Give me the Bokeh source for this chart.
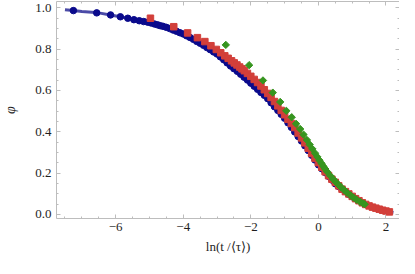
import math
from bokeh.plotting import figure
from bokeh.models import Range1d, LinearAxis, SingleIntervalTicker
from bokeh.embed import file_html
from bokeh.resources import INLINE

# ---- data ----
fit_x = [-7.5, -7.25, -7.0, -6.5, -6.16, -5.86, -5.64, -5.44, -5.0, -4.5, -4.0, -3.79, -3.5,
         -3.0, -2.66, -2.24, -1.95, -1.53, -1.0, -0.5, 0.0, 0.5, 1.0, 1.5, 2.0, 2.22]
fit_y = [0.990, 0.986, 0.982, 0.975, 0.965, 0.956, 0.949, 0.941, 0.928, 0.905, 0.873, 0.855, 0.828,
         0.776, 0.725, 0.670, 0.628, 0.566, 0.465, 0.355, 0.240, 0.148, 0.085, 0.042, 0.016, 0.009]

blue_x = [-7.25, -6.56, -6.15, -5.86, -5.64, -5.46, -5.3, -5.17, -5.05, -4.95, -4.85, -4.76, -4.68,
          -4.6, -4.5, -4.4, -4.3, -4.2, -4.1, -4.0, -3.9, -3.8, -3.7, -3.6, -3.5, -3.4, -3.3, -3.2,
          -3.1, -3.0, -2.9, -2.8, -2.7, -2.6, -2.5, -2.4, -2.3, -2.2, -2.1, -2.0, -1.9, -1.8, -1.7,
          -1.6, -1.5, -1.4, -1.3, -1.2, -1.1, -1.0, -0.9, -0.8, -0.7, -0.6, -0.5, -0.4, -0.3, -0.2,
          -0.1, 0.0, 0.1, 0.2, 0.3, 0.4, 0.5, 0.6, 0.7, 0.8, 0.9, 1.0, 1.1]
blue_y = [0.986, 0.975, 0.965, 0.956, 0.949, 0.942, 0.937, 0.933, 0.930, 0.926, 0.921, 0.917, 0.913,
          0.910, 0.905, 0.899, 0.892, 0.886, 0.879, 0.873, 0.864, 0.856, 0.847, 0.837, 0.828, 0.818,
          0.807, 0.797, 0.786, 0.776, 0.762, 0.748, 0.733, 0.718, 0.705, 0.692, 0.678, 0.664, 0.650,
          0.635, 0.620, 0.605, 0.590, 0.576, 0.560, 0.540, 0.521, 0.503, 0.484, 0.465, 0.443, 0.421,
          0.399, 0.377, 0.355, 0.332, 0.309, 0.286, 0.263, 0.240, 0.221, 0.203, 0.184, 0.166, 0.148,
          0.135, 0.122, 0.110, 0.097, 0.085, 0.076]

red_x = [-4.97, -4.28, -3.87, -3.58, -3.36, -3.18, -3.02, -2.89, -2.77, -2.67, -2.57, -2.49, -2.41,
         -2.33, -2.26, -2.19, -2.1, -2.0, -1.9, -1.8, -1.7, -1.6, -1.5, -1.4, -1.3, -1.2, -1.1, -1.0,
         -0.9, -0.8, -0.7, -0.6, -0.5, -0.4, -0.3, -0.2, -0.1, 0.0, 0.1, 0.2, 0.3, 0.4, 0.5, 0.6,
         0.7, 0.8, 0.9, 1.0, 1.1, 1.2, 1.3, 1.4, 1.5, 1.6, 1.7, 1.8, 1.9, 2.0, 2.1]
red_y = [0.949, 0.908, 0.878, 0.855, 0.836, 0.816, 0.798, 0.782, 0.767, 0.755, 0.743, 0.733, 0.723,
         0.713, 0.704, 0.695, 0.682, 0.668, 0.653, 0.638, 0.621, 0.603, 0.585, 0.566, 0.546, 0.525,
         0.503, 0.482, 0.460, 0.440, 0.420, 0.394, 0.370, 0.346, 0.320, 0.295, 0.272, 0.250, 0.228,
         0.206, 0.187, 0.170, 0.155, 0.138, 0.122, 0.110, 0.099, 0.087, 0.076, 0.066, 0.056, 0.048,
         0.041, 0.035, 0.030, 0.025, 0.020, 0.016, 0.012]

green_x = [-2.74, -2.05, -1.64, -1.35, -1.13, -0.95, -0.79, -0.66, -0.54, -0.44, -0.34, -0.26, -0.18,
           -0.10, -0.03, 0.03, 0.09, 0.15, 0.20, 0.26, 0.35, 0.44, 0.52, 0.59, 0.66, 0.76, 0.84,
           0.95, 1.04, 1.13, 1.23, 1.32, 1.37]
green_y = [0.820, 0.722, 0.648, 0.589, 0.544, 0.501, 0.470, 0.438, 0.413, 0.386, 0.360, 0.338, 0.317,
           0.296, 0.278, 0.262, 0.247, 0.232, 0.220, 0.206, 0.187, 0.170, 0.156, 0.144, 0.133, 0.118,
           0.106, 0.092, 0.081, 0.071, 0.061, 0.053, 0.049]

x_labels = {-6: "\u22126", -4: "\u22124", -2: "\u22122", 0: "0", 2: "2"}
y_labels = {0: "0.0", 0.2: "0.2", 0.4: "0.4", 0.6: "0.6", 0.8: "0.8", 1: "1.0"}

FONT = "Liberation Serif"
FRAME = "#bdbdbd"
TXT = "#1e1e1e"

p = figure(width=399, height=258, output_backend="svg", toolbar_location=None,
           x_range=Range1d(-7.75, 2.4), y_range=Range1d(-0.02, 1.03),
           x_axis_location=None, y_axis_location=None,
           min_border_left=49, min_border_right=0, min_border_top=1, min_border_bottom=40)
p.xgrid.visible = False
p.ygrid.visible = False
p.outline_line_color = None
p.background_fill_color = "white"
p.border_fill_color = "white"


def style(ax, labels, show):
    ax.axis_line_color = FRAME
    ax.major_tick_line_color = FRAME
    ax.minor_tick_line_color = FRAME
    ax.major_tick_in = 4
    ax.major_tick_out = 0
    ax.minor_tick_in = 2
    ax.minor_tick_out = 0
    if show:
        ax.major_label_overrides = labels
        ax.major_label_text_font = FONT
        ax.major_label_text_font_size = "13px"
        ax.major_label_text_color = TXT
    else:
        ax.major_label_text_color = None
        ax.major_label_text_alpha = 0
        ax.major_label_text_font_size = "1px"
        ax.major_label_standoff = 0


xt = SingleIntervalTicker(interval=2, num_minor_ticks=4)
yt = SingleIntervalTicker(interval=0.2, num_minor_ticks=4)

bottom = LinearAxis(ticker=xt, axis_label="ln(t /\u27e8\u03c4\u27e9)")
style(bottom, x_labels, True)
bottom.major_label_standoff = 4
bottom.axis_label_text_font = FONT
bottom.axis_label_text_font_size = "13px"
bottom.axis_label_text_font_style = "normal"
bottom.axis_label_text_color = TXT
bottom.axis_label_standoff = 5
p.add_layout(bottom, "below")

left = LinearAxis(ticker=yt, axis_label="\u03c6")
style(left, y_labels, True)
left.major_label_standoff = 5
left.axis_label_text_font = FONT
left.axis_label_text_font_size = "14px"
left.axis_label_text_font_style = "italic"
left.axis_label_text_color = TXT
left.axis_label_standoff = 14
p.add_layout(left, "left")

top = LinearAxis(ticker=SingleIntervalTicker(interval=2, num_minor_ticks=4))
style(top, None, False)
p.add_layout(top, "above")

right = LinearAxis(ticker=SingleIntervalTicker(interval=0.2, num_minor_ticks=4))
style(right, None, False)
p.add_layout(right, "right")

p.line(fit_x, fit_y, line_color="#2b2b98", line_width=3, line_alpha=0.85)
p.scatter(blue_x, blue_y, marker="circle", size=6.5, fill_color="#0a0a8c", line_color="#0a0a8c")
p.scatter(red_x, red_y, marker="square", size=6.5, fill_color="#d23f3a", line_color="#d23f3a")
p.scatter(green_x, green_y, marker="square", size=5.2, angle=math.pi / 4,
          fill_color="#36951f", line_color="#36951f")

open("out.html", "w").write(file_html(p, INLINE))
